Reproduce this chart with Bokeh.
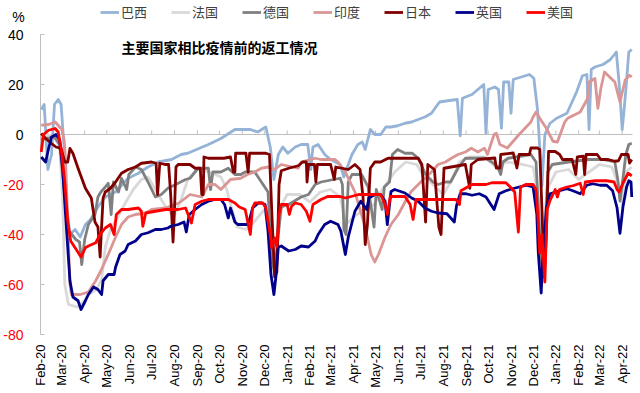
import math
import pandas as pd
from bokeh.plotting import figure
from bokeh.models import (ColumnDataSource, Legend, LegendItem, Label, LabelSet,
                          FixedTicker, DatetimeTickFormatter, Range1d)
from bokeh.core.properties import value, field
from bokeh.embed import file_html
from bokeh.resources import INLINE

# ---------------- data ----------------
BRAZIL = [("2020-02-16",10),("2020-02-20",12),("2020-02-25",-14),("2020-03-01",-8),("2020-03-05",12),("2020-03-10",14),("2020-03-14",12),("2020-03-18",-5),("2020-03-22",-30),("2020-03-26",-40),("2020-04-02",-38),("2020-04-09",-41),("2020-04-16",-36),("2020-04-23",-34),("2020-05-03",-29),("2020-05-13",-25),("2020-05-27",-23),("2020-06-13",-17.5),("2020-06-27",-15.5),("2020-07-10",-13),("2020-07-24",-11),("2020-08-11",-10),("2020-08-24",-8),("2020-09-02",-7.5),("2020-09-30",-4),("2020-10-17",-1.6),("2020-11-05",2),("2020-11-26",2),("2020-12-06",1),("2020-12-17",3),("2020-12-23",-5),("2020-12-28",-18),("2021-01-03",-8),("2021-01-09",-5),("2021-01-16",-7.5),("2021-01-26",-5),("2021-02-03",-4),("2021-02-12",-4),("2021-02-16",-14),("2021-02-19",-5),("2021-02-26",-4),("2021-03-07",-8),("2021-03-15",-10),("2021-03-28",-12),("2021-04-02",-17),("2021-04-08",-12),("2021-04-13",-8),("2021-04-21",-4),("2021-04-27",-3),("2021-05-01",-6),("2021-05-08",2),("2021-05-14",0),("2021-05-22",0),("2021-05-29",3),("2021-06-05",3),("2021-06-14",3.5),("2021-06-24",4.5),("2021-07-03",5),("2021-07-12",6),("2021-07-21",7),("2021-07-30",8.5),("2021-08-05",11),("2021-08-10",13),("2021-08-21",13.5),("2021-09-03",14),("2021-09-07",-0.5),("2021-09-10",14.5),("2021-09-23",16),("2021-10-09",20),("2021-10-12",0.5),("2021-10-15",18),("2021-10-24",19),("2021-10-29",18),("2021-11-02",2.5),("2021-11-05",21),("2021-11-12",21),("2021-11-15",8.5),("2021-11-18",22),("2021-12-10",24),("2021-12-16",22.5),("2021-12-21",10),("2021-12-27",-20.5),("2021-12-31",0),("2022-01-07",4.5),("2022-01-16",6.5),("2022-01-30",8.5),("2022-02-12",17),("2022-02-20",23.5),("2022-02-26",24),("2022-03-01",2),("2022-03-04",26),("2022-03-09",27),("2022-03-20",28),("2022-03-30",30),("2022-04-07",33),("2022-04-11",20),("2022-04-15",2),("2022-04-17",8),("2022-04-20",18),("2022-04-24",33),("2022-04-28",34)]

FRANCE = [("2020-02-16",-2),("2020-02-25",0),("2020-03-05",-1),("2020-03-12",-5),("2020-03-16",-25),("2020-03-19",-60),("2020-03-24",-68),("2020-04-05",-69),("2020-04-13",-67),("2020-04-20",-64),("2020-05-01",-62),("2020-05-08",-58),("2020-05-13",-45),("2020-05-20",-38),("2020-05-30",-33),("2020-06-10",-27),("2020-06-20",-22),("2020-07-01",-18),("2020-07-10",-17),("2020-07-20",-22),("2020-08-01",-28),("2020-08-14",-33),("2020-08-24",-26),("2020-09-02",-18),("2020-09-15",-14),("2020-10-01",-15),("2020-10-17",-17),("2020-10-25",-22),("2020-11-01",-30),("2020-11-08",-37),("2020-11-20",-38),("2020-12-01",-35),("2020-12-15",-30),("2020-12-22",-38),("2020-12-28",-55),("2021-01-04",-30),("2021-01-15",-24),("2021-02-01",-24),("2021-02-15",-27),("2021-03-01",-23),("2021-03-15",-22),("2021-03-28",-25),("2021-04-05",-36),("2021-04-15",-33),("2021-04-30",-30),("2021-05-13",-28),("2021-05-24",-22),("2021-06-10",-15),("2021-06-25",-11),("2021-07-10",-12),("2021-07-20",-17),("2021-08-01",-20),("2021-08-15",-24),("2021-08-25",-19),("2021-09-06",-11),("2021-09-20",-9),("2021-10-10",-9),("2021-10-25",-13),("2021-11-10",-11),("2021-12-01",-12),("2021-12-15",-13),("2021-12-22",-25),("2021-12-27",-45),("2022-01-03",-22),("2022-01-15",-15),("2022-02-01",-14),("2022-02-15",-18),("2022-03-01",-15),("2022-03-15",-12),("2022-04-01",-13),("2022-04-12",-22),("2022-04-15",-28),("2022-04-20",-15),("2022-04-28",-13)]

GERMANY = [("2020-02-16",-2),("2020-03-05",-1),("2020-03-12",-4),("2020-03-17",-18),("2020-03-23",-38),("2020-04-03",-42),("2020-04-08",-43),("2020-04-11",-52),("2020-04-15",-42),("2020-04-20",-36),("2020-04-29",-32),("2020-05-03",-25),("2020-05-07",-23),("2020-05-13",-21),("2020-05-17",-19.5),("2020-05-21",-32),("2020-05-24",-19),("2020-05-31",-23),("2020-06-04",-17.5),("2020-06-11",-22),("2020-06-14",-16),("2020-06-23",-13),("2020-07-01",-14),("2020-07-10",-19),("2020-07-20",-25),("2020-07-28",-24),("2020-08-06",-21.5),("2020-08-20",-19.5),("2020-08-30",-18),("2020-09-05",-17.5),("2020-09-16",-13.5),("2020-09-30",-13.5),("2020-10-03",-22),("2020-10-06",-15),("2020-10-17",-15),("2020-10-27",-13.5),("2020-11-05",-16),("2020-11-13",-16),("2020-11-19",-15),("2020-12-02",-15),("2020-12-11",-19),("2020-12-20",-23),("2020-12-25",-50),("2020-12-29",-55),("2021-01-03",-40),("2021-01-07",-29),("2021-01-17",-28),("2021-02-03",-25),("2021-02-13",-24),("2021-02-22",-20),("2021-03-02",-19),("2021-03-28",-17.5),("2021-03-31",-20),("2021-04-02",-38),("2021-04-05",-40),("2021-04-08",-19),("2021-04-13",-16),("2021-04-26",-16),("2021-05-05",-21),("2021-05-13",-37),("2021-05-16",-22),("2021-05-24",-30),("2021-05-27",-21),("2021-06-03",-19),("2021-06-07",-8),("2021-06-14",-6),("2021-06-24",-7.5),("2021-07-04",-7.5),("2021-07-12",-9.5),("2021-07-22",-16),("2021-08-01",-19),("2021-08-08",-20),("2021-08-18",-19),("2021-08-25",-19),("2021-09-04",-13.5),("2021-09-14",-9.5),("2021-10-01",-9.5),("2021-10-12",-9.5),("2021-10-20",-11),("2021-10-28",-13),("2021-11-01",-16),("2021-11-04",-11),("2021-11-11",-9.5),("2021-12-12",-8),("2021-12-19",-11),("2021-12-24",-40),("2021-12-27",-54),("2021-12-31",-45),("2022-01-04",-15),("2022-01-10",-12),("2022-02-01",-11),("2022-03-01",-10),("2022-03-20",-10),("2022-04-05",-11),("2022-04-09",-18),("2022-04-12",-26.6),("2022-04-15",-20),("2022-04-20",-8),("2022-04-24",-4),("2022-04-28",-3.5)]

INDIA = [("2020-02-16",3.7),("2020-02-26",4),("2020-03-06",5),("2020-03-15",2),("2020-03-18",-2),("2020-03-20",-10),("2020-03-23",-35),("2020-03-26",-60),("2020-03-28",-64),("2020-04-09",-64),("2020-04-20",-63),("2020-04-30",-58.5),("2020-05-07",-54.5),("2020-05-17",-48),("2020-05-27",-41),("2020-06-04",-36),("2020-06-13",-33),("2020-06-23",-32),("2020-07-07",-31.4),("2020-07-15",-30),("2020-08-03",-29.4),("2020-08-21",-27.4),("2020-08-30",-25.4),("2020-09-05",-24),("2020-09-21",-25),("2020-09-30",-20),("2020-10-09",-20),("2020-10-17",-22),("2020-10-30",-18),("2020-11-13",-17.5),("2020-11-22",-16),("2020-12-02",-15),("2020-12-11",-13.5),("2020-12-20",-13),("2020-12-29",-14),("2021-01-07",-12),("2021-01-30",-13.5),("2021-02-03",-11),("2021-02-22",-9.5),("2021-03-02",-10),("2021-03-21",-10),("2021-03-25",-11),("2021-04-04",-15),("2021-04-17",-23),("2021-05-01",-37),("2021-05-09",-48),("2021-05-14",-51),("2021-05-19",-48),("2021-05-28",-41),("2021-06-05",-36),("2021-06-15",-32),("2021-06-24",-27),("2021-07-02",-23),("2021-07-12",-20),("2021-07-21",-17.5),("2021-07-30",-15),("2021-08-08",-12),("2021-08-18",-11),("2021-08-26",-9.5),("2021-09-04",-8),("2021-09-14",-7),("2021-09-22",-5.5),("2021-10-01",-7),("2021-10-10",-5.5),("2021-10-14",-8),("2021-10-23",0),("2021-10-26",0.5),("2021-10-31",-4),("2021-11-10",-5.4),("2021-11-26",0),("2021-12-12",5),("2021-12-15",7),("2021-12-19",9),("2021-12-24",6.5),("2022-01-02",2.5),("2022-01-11",-2.7),("2022-01-17",-3),("2022-01-27",5),("2022-01-31",6.5),("2022-02-17",9),("2022-02-27",14.4),("2022-03-01",21),("2022-03-09",22.4),("2022-03-13",10.5),("2022-03-17",18.4),("2022-03-22",25),("2022-03-31",22.4),("2022-04-05",21),("2022-04-12",13),("2022-04-19",21.7),("2022-04-25",23.7),("2022-04-28",23)]

JAPAN = [("2020-02-16",0.4),("2020-02-22",-1.6),("2020-03-01",-3.6),("2020-03-07",-5),("2020-03-14",-5.6),("2020-03-19",-11),("2020-03-23",-11),("2020-03-26",-5.6),("2020-03-30",-7.5),("2020-04-06",-13.5),("2020-04-16",-21.5),("2020-04-24",-25.4),("2020-04-29",-35),("2020-05-03",-37),("2020-05-06",-49),("2020-05-07",-42.6),("2020-05-10",-25.4),("2020-05-13",-23),("2020-05-20",-21.5),("2020-05-27",-19),("2020-06-04",-15.5),("2020-06-13",-14),("2020-06-23",-13),("2020-07-01",-11.5),("2020-07-15",-11),("2020-07-21",-11.5),("2020-07-23",-24),("2020-07-26",-11.5),("2020-08-02",-12),("2020-08-07",-12),("2020-08-10",-25),("2020-08-13",-43),("2020-08-15",-30),("2020-08-17",-13),("2020-08-20",-12),("2020-09-05",-12),("2020-09-12",-13.5),("2020-09-19",-13.5),("2020-09-21",-24),("2020-09-23",-24),("2020-09-24",-9),("2020-09-30",-9.5),("2020-10-21",-9.5),("2020-10-30",-9),("2020-11-03",-15),("2020-11-05",-15),("2020-11-06",-7.5),("2020-11-20",-7.5),("2020-11-23",-15),("2020-11-25",-7.5),("2020-12-17",-7.5),("2020-12-22",-8),("2020-12-25",-30),("2020-12-29",-57),("2021-01-01",-55),("2021-01-04",-20),("2021-01-07",-14.5),("2021-01-17",-13.5),("2021-01-30",-12.5),("2021-02-05",-11),("2021-02-10",-11),("2021-02-11",-19),("2021-02-13",-12),("2021-02-21",-12),("2021-02-23",-19),("2021-02-25",-12),("2021-03-15",-12),("2021-03-20",-18),("2021-03-22",-13),("2021-04-08",-14),("2021-04-17",-12),("2021-04-24",-14),("2021-04-28",-25),("2021-05-01",-44),("2021-05-04",-36),("2021-05-08",-13.5),("2021-05-14",-11),("2021-05-22",-11),("2021-06-01",-9.5),("2021-07-12",-9.5),("2021-07-17",-12),("2021-07-22",-35),("2021-07-25",-12),("2021-08-03",-14),("2021-08-09",-37),("2021-08-12",-40),("2021-08-16",-13.5),("2021-09-14",-12),("2021-09-20",-21.5),("2021-09-22",-12),("2021-10-01",-10),("2021-10-24",-9.4),("2021-10-26",-13.4),("2021-10-31",-13.4),("2021-11-01",-8),("2021-11-18",-7.4),("2021-11-23",-13.4),("2021-11-26",-8),("2021-12-10",-8),("2021-12-12",-5.4),("2021-12-21",-5.4),("2021-12-24",-6),("2021-12-27",-30),("2021-12-30",-57),("2022-01-02",-40),("2022-01-05",-6.8),("2022-01-14",-6.8),("2022-01-20",-8),("2022-01-24",-10),("2022-02-06",-10),("2022-02-11",-16),("2022-02-13",-9),("2022-02-21",-8.7),("2022-02-23",-16),("2022-02-25",-8),("2022-03-12",-8),("2022-03-17",-10),("2022-03-27",-10),("2022-04-05",-10.7),("2022-04-10",-10.5),("2022-04-14",-8),("2022-04-23",-8),("2022-04-25",-11.4),("2022-04-28",-10)]

UK = [("2020-02-16",-9),("2020-02-22",-11),("2020-02-26",-5.6),("2020-03-01",-1),("2020-03-07",0),("2020-03-12",-2),("2020-03-16",-13.5),("2020-03-20",-32),("2020-03-26",-58.5),("2020-03-30",-65),("2020-04-06",-66.5),("2020-04-10",-70),("2020-04-16",-66.5),("2020-04-20",-64),("2020-04-27",-61),("2020-05-03",-62),("2020-05-08",-64),("2020-05-10",-58.5),("2020-05-17",-56),("2020-05-25",-56),("2020-05-27",-53),("2020-06-02",-48),("2020-06-09",-46.6),("2020-06-13",-44),("2020-06-23",-42.6),("2020-07-01",-40),("2020-07-10",-39.3),("2020-07-20",-38),("2020-07-28",-38),("2020-08-06",-37.4),("2020-08-10",-36.7),("2020-08-20",-36),("2020-08-28",-35),("2020-08-31",-39),("2020-09-04",-32),("2020-09-12",-30),("2020-09-21",-28),("2020-09-30",-26.7),("2020-10-09",-26),("2020-10-17",-26),("2020-10-22",-28),("2020-10-27",-33.4),("2020-10-30",-29.4),("2020-11-05",-35),("2020-11-09",-36),("2020-11-22",-36),("2020-11-25",-34),("2020-11-29",-29.4),("2020-12-07",-27.4),("2020-12-11",-27.4),("2020-12-16",-28),("2020-12-20",-38.7),("2020-12-24",-56),("2020-12-28",-64),("2020-12-31",-56),("2021-01-03",-45),("2021-01-07",-44.6),("2021-01-17",-46.6),("2021-01-26",-46),("2021-02-03",-44.6),("2021-02-13",-45),("2021-02-22",-42.6),("2021-02-26",-40),("2021-03-07",-36),("2021-03-15",-34.7),("2021-03-25",-36),("2021-03-29",-38.7),("2021-04-04",-48),("2021-04-08",-41),("2021-04-17",-30.7),("2021-04-25",-26.7),("2021-05-03",-30),("2021-05-06",-25.4),("2021-05-14",-24),("2021-05-22",-24),("2021-05-28",-26.7),("2021-05-31",-36),("2021-06-05",-22.8),("2021-06-10",-22),("2021-06-24",-23.4),("2021-07-03",-25.4),("2021-07-12",-26.7),("2021-07-21",-29.4),("2021-07-30",-30.7),("2021-08-08",-31.4),("2021-08-20",-31.7),("2021-08-27",-34),("2021-08-30",-35),("2021-09-02",-28.5),("2021-09-07",-23.7),("2021-09-15",-23.7),("2021-09-23",-24.3),("2021-10-03",-23.7),("2021-10-12",-25),("2021-10-23",-30),("2021-10-30",-23.7),("2021-11-08",-22.5),("2021-11-17",-21.7),("2021-11-26",-21),("2021-12-06",-20.3),("2021-12-15",-21),("2021-12-20",-31.7),("2021-12-22",-47),("2021-12-26",-63.4),("2021-12-28",-51),("2022-01-02",-29.5),("2022-01-07",-23.7),("2022-01-20",-22.5),("2022-01-30",-21.7),("2022-02-07",-22.5),("2022-02-17",-23.7),("2022-02-26",-20.3),("2022-03-06",-19.7),("2022-03-16",-20.3),("2022-03-25",-20.3),("2022-04-02",-22.5),("2022-04-08",-29.3),("2022-04-12",-39.5),("2022-04-16",-29),("2022-04-21",-21),("2022-04-24",-18.5),("2022-04-27",-19),("2022-04-28",-25)]

USA = [("2020-02-16",-7),("2020-02-19",0),("2020-02-26",1.7),("2020-03-06",2.4),("2020-03-10",1),("2020-03-14",-5.6),("2020-03-19",-19),("2020-03-23",-34.7),("2020-03-27",-42.6),("2020-04-02",-45.3),("2020-04-10",-49),("2020-04-16",-45.3),("2020-04-20",-44.6),("2020-04-30",-43.3),("2020-05-06",-40),("2020-05-13",-37.4),("2020-05-20",-36),("2020-05-25",-40),("2020-05-28",-32),("2020-06-04",-30),("2020-06-13",-30),("2020-06-27",-29.4),("2020-07-01",-30.7),("2020-07-03",-36.7),("2020-07-07",-31.4),("2020-07-20",-30.7),("2020-08-03",-30),("2020-08-20",-30),("2020-08-30",-29.4),("2020-09-07",-35.4),("2020-09-12",-28),("2020-09-21",-26.7),("2020-09-30",-26),("2020-10-27",-26),("2020-11-05",-27.4),("2020-11-11",-29),("2020-11-19",-30),("2020-11-26",-40),("2020-11-29",-29.4),("2020-12-02",-27.4),("2020-12-13",-27.4),("2020-12-17",-29.4),("2020-12-23",-40),("2020-12-25",-45.3),("2020-12-29",-41.3),("2021-01-01",-45),("2021-01-04",-32),("2021-01-07",-28),("2021-01-15",-28),("2021-01-18",-32),("2021-01-21",-28.7),("2021-01-26",-27.4),("2021-02-03",-28),("2021-02-10",-30.7),("2021-02-15",-34.7),("2021-02-19",-28),("2021-03-02",-26),("2021-03-11",-24.8),("2021-03-28",-24.8),("2021-04-04",-25.4),("2021-04-12",-24.8),("2021-04-22",-24),("2021-05-22",-24),("2021-05-28",-28),("2021-05-31",-32),("2021-06-04",-24.8),("2021-06-24",-24.8),("2021-07-01",-28),("2021-07-05",-34),("2021-07-09",-26),("2021-08-26",-26),("2021-09-01",-26),("2021-09-06",-28),("2021-09-08",-22.5),("2021-09-14",-21.5),("2021-09-23",-20),("2021-10-12",-20),("2021-10-20",-19.3),("2021-11-08",-19.3),("2021-11-14",-21),("2021-11-20",-23),("2021-11-25",-39),("2021-11-28",-21),("2021-12-05",-20),("2021-12-15",-20),("2021-12-19",-22),("2021-12-22",-35),("2021-12-24",-47.5),("2021-12-27",-40),("2021-12-31",-59),("2022-01-03",-30),("2022-01-07",-26.4),("2022-01-11",-24),("2022-01-14",-22),("2022-01-17",-25),("2022-01-20",-22),("2022-01-30",-21),("2022-02-07",-20.5),("2022-02-17",-19.5),("2022-02-21",-24),("2022-02-24",-19),("2022-03-10",-18.5),("2022-03-25",-18.5),("2022-04-04",-19),("2022-04-08",-22),("2022-04-11",-23),("2022-04-16",-19.5),("2022-04-23",-15.5),("2022-04-28",-16.5)]

SERIES_NAMES = ["巴西", "法国", "德国", "印度", "日本", "英国", "美国"]
SERIES_DATA = [BRAZIL, FRANCE, GERMANY, INDIA, JAPAN, UK, USA]
SERIES_COLORS = ["#95B3D7", "#D9D9D9", "#808080", "#DA9694", "#800000", "#00008B", "#FF0000"]

Y_TICKS = [-80, -60, -40, -20, 0, 20, 40]
X_TICKS = pd.date_range("2020-02-01", "2022-04-01", freq="MS") + pd.Timedelta(days=14)
X_START = pd.Timestamp("2020-02-15")
X_END = pd.Timestamp("2022-04-29")
TITLE = "主要国家相比疫情前的返工情况"
UNIT = "%"

CJK = "Noto Sans CJK SC"
LATIN = "Liberation Sans"
AXIS_GREY = "#BFBFBF"

# ---------------- layout (pixels) ----------------
W, H = 640, 393
AX_LEFT, AX_RIGHT = 40, 632          # x of first / last date
AX_TOP, AX_BOTTOM = 34, 334          # y of 40 / -80
FRAME_H = 343                        # frame reaches the top of the month labels
BOTTOM_BORDER = H - FRAME_H
day_per_px = (X_END - X_START) / (AX_RIGHT - AX_LEFT)
unit_per_px = (Y_TICKS[-1] - Y_TICKS[0]) / (AX_BOTTOM - AX_TOP)
x_lo = X_START - AX_LEFT * day_per_px
x_hi = X_END + (W - AX_RIGHT) * day_per_px
y_lo = Y_TICKS[0] - (FRAME_H - AX_BOTTOM) * unit_per_px
y_hi = Y_TICKS[-1] + AX_TOP * unit_per_px

p = figure(width=W, height=H, x_axis_type="datetime", y_axis_location=None,
           x_range=Range1d(x_lo, x_hi), y_range=Range1d(y_lo, y_hi),
           output_backend="svg", toolbar_location=None,
           min_border_left=0, min_border_right=0, min_border_top=0,
           min_border_bottom=BOTTOM_BORDER)
p.title.visible = False
p.outline_line_color = None
p.grid.visible = False
p.background_fill_color = "white"
p.border_fill_color = "white"

# bottom axis: only the rotated month labels
tick_ms = [int(t.timestamp() * 1000) for t in X_TICKS]
xa = p.xaxis[0]
xa.ticker = FixedTicker(ticks=tick_ms, minor_ticks=[])
fmt = "%b-%y"
xa.formatter = DatetimeTickFormatter(microseconds=fmt, milliseconds=fmt, seconds=fmt, minsec=fmt,
                                     minutes=fmt, hourmin=fmt, hours=fmt, days=fmt,
                                     months=fmt, years=fmt)
xa.major_label_orientation = math.pi / 2
xa.axis_line_color = None
xa.major_tick_line_color = None
xa.minor_tick_line_color = None
xa.major_tick_in = 0
xa.major_tick_out = 0
xa.major_label_standoff = 1
xa.major_label_text_font = LATIN
xa.major_label_text_font_size = "13px"
xa.major_label_text_color = "#000000"

# left value axis: line, inward ticks, coloured labels
tick_len_x = 4 * day_per_px
p.segment(x0=[X_START], y0=[Y_TICKS[0]], x1=[X_START], y1=[Y_TICKS[-1]],
          line_color=AXIS_GREY, line_width=1)
p.segment(x0=[X_START] * len(Y_TICKS), y0=Y_TICKS,
          x1=[X_START + tick_len_x] * len(Y_TICKS), y1=Y_TICKS,
          line_color=AXIS_GREY, line_width=1)
ysrc = ColumnDataSource(dict(x=[X_START] * len(Y_TICKS), y=Y_TICKS,
                             text=[str(t) for t in Y_TICKS],
                             clr=["#FF0000" if t < 0 else "#000000" for t in Y_TICKS]))
p.add_layout(LabelSet(x="x", y="y", text="text", source=ysrc, x_offset=-17,
                      text_align="right", text_baseline="middle", text_color=field("clr"),
                      text_font=value(LATIN), text_font_size=value("14px")))

# zero line with upward month ticks
p.segment(x0=[X_START], y0=[0], x1=[X_END], y1=[0], line_color=AXIS_GREY, line_width=1)
p.segment(x0=list(X_TICKS), y0=[0] * len(X_TICKS), x1=list(X_TICKS),
          y1=[4 * unit_per_px] * len(X_TICKS), line_color=AXIS_GREY, line_width=1)

# series
renderers = []
for name, data, color in zip(SERIES_NAMES, SERIES_DATA, SERIES_COLORS):
    dates = pd.to_datetime([d for d, _ in data])
    vals = [v for _, v in data]
    r = p.line(dates, vals, line_color=color, line_width=2.8, line_join="round")
    renderers.append(r)

# legend: location is the bottom-left corner, measured from the frame's bottom-left
legend = Legend(items=[LegendItem(label=n, renderers=[r]) for n, r in zip(SERIES_NAMES, renderers)],
                orientation="horizontal", location=(100, FRAME_H - 21),
                padding=0, margin=0, spacing=24, glyph_width=19, glyph_height=16,
                label_standoff=2, label_text_font=CJK, label_text_font_size="13px",
                label_text_color="#404040", border_line_color=None, background_fill_alpha=0)
p.add_layout(legend)

p.add_layout(Label(x=121, y=FRAME_H - 46, x_units="screen", y_units="screen", text=TITLE,
                   text_font=CJK, text_font_size="14px", text_font_style="bold",
                   text_baseline="middle", text_color="#000000"))
p.add_layout(Label(x=18, y=FRAME_H - 16, x_units="screen", y_units="screen", text=UNIT,
                   text_font=LATIN, text_font_size="14px", text_align="center",
                   text_baseline="middle", text_color="#000000"))

open("out.html", "w").write(file_html(p, INLINE))
